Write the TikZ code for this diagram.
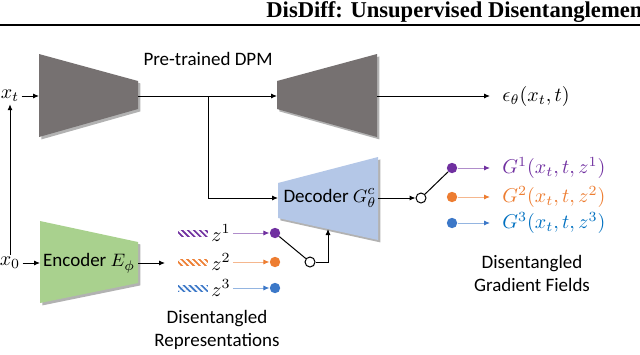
\documentclass[tikz,border=0pt]{standalone}
\usepackage{fontspec}
\setmainfont{Carlito}
\newfontfamily\titlefont{Liberation Serif}
\usepackage{tikz}
\usetikzlibrary{arrows.meta, positioning, calc, shadows, patterns.meta}

\definecolor{dpmgray}{HTML}{767171}
\definecolor{encgreen}{HTML}{A9D18E}
\definecolor{decblue}{HTML}{B4C7E7}
\definecolor{zpurple}{HTML}{7030A0}
\definecolor{zorange}{HTML}{ED7D31}
\definecolor{zblue}{HTML}{3C78C8}
\definecolor{gblue}{HTML}{0070C0}

\tikzset{
    lbl/.style={font=\fontsize{9.5}{11.5}\selectfont, inner sep=1pt},
    mathlbl/.style={font=\fontsize{10.3}{12}\selectfont, inner sep=1pt},
    conn/.style={-{Latex[length=3pt,width=2.6pt]}, line width=0.5pt},
    block/.style={drop shadow={shadow xshift=1.2pt, shadow yshift=-1.2pt, opacity=0.3, fill=black}},
    hatch/.style={pattern={Lines[angle=-45,distance=2.1pt,line width=1.1pt]}, pattern color=white},
    dot/.style={circle, inner sep=0pt, minimum size=5.2pt, fill=#1},
    switchnode/.style={circle, draw, fill=white, inner sep=0pt, minimum size=5pt, line width=0.5pt}
}

\begin{document}
\begin{tikzpicture}[x=0.5pt, y=-0.5pt]
    \useasboundingbox (0,0) rectangle (640,354);
    % header of the page
    \begin{scope}
        \clip (0,0) rectangle (640,354);
        \node[anchor=base west, inner sep=0pt, font=\titlefont\bfseries\fontsize{11.3}{13}\selectfont] (title) at (266,17) {DisDiff: Unsupervised Disentanglemen};
    \end{scope}
    \draw[line width=1pt] (0,25) -- (640,25);

    % pre-trained DPM
    \fill[dpmgray, block] (39,54) -- (138,81) -- (138,109) -- (39,137) -- cycle;
    \fill[dpmgray, block] (277,81) -- (377,54) -- (377,137) -- (277,109) -- cycle;
    \node[lbl] (dpm) at (208,59) {Pre-trained DPM};
    \coordinate (dpmin) at (39,96);
    \coordinate (dpmmid) at (138,96);
    \coordinate (unetin) at (277,96);
    \coordinate (dpmout) at (377,96);
    \coordinate (branch) at (208,96);

    \node[mathlbl] (xt) at (10,96) {$x_t$};
    \node[mathlbl] (x0) at (10,263) {$x_0$};
    \node[mathlbl, anchor=west, inner xsep=6pt] (eps) at (490,96) {$\epsilon_\theta(x_t,t)$};

    \draw[conn] (x0) -- (xt);
    \draw[conn] (xt) -- (dpmin);
    \draw[conn] (dpmmid) -- (unetin);
    \draw[conn] (dpmout) -- (eps);

    % conditional decoder
    \fill[decblue, block] (278,183) -- (378,157) -- (378,240) -- (278,218) -- cycle;
    \node[lbl] (dec) at (330,198) {Decoder $G_\theta^c$};
    \coordinate (decin) at (278,198);
    \coordinate (decout) at (378,198);
    \coordinate (decbot) at (328,229);
    \draw[conn] (branch) |- (decin);

    % encoder
    \fill[encgreen, block] (40,221) -- (138,242) -- (138,283) -- (40,303) -- cycle;
    \node[lbl] (enc) at (89,263) {Encoder $E_\phi$};
    \coordinate (encin) at (40,263);
    \coordinate (encout) at (138,263);
    \coordinate (zin) at (165,263);
    \draw[conn] (x0) -- (encin);
    \draw[conn] (encout) -- (zin);

    % disentangled representations
    \foreach \i/\c/\y in {1/zpurple/233, 2/zorange/262, 3/zblue/288} {
        \fill[\c] (178,\y-3.5) rectangle (208,\y+3.5);
        \fill[hatch] (178,\y-3.5) rectangle (208,\y+3.5);
        \node[mathlbl, anchor=west] (z\i) at (209,\y) {$z^{\i}$};
        \node[dot=\c] (zd\i) at (275,\y) {};
        \draw[line width=0.5pt, draw=\c!55!white, -{Latex[length=3pt,width=2.6pt,color=\c]}] (z\i) -- (zd\i);
    }
    \node[lbl, align=center] (rep) at (217,330) {Disentangled\\Representations};

    % switch into the decoder
    \node[switchnode] (sw1) at (310,262) {};
    \draw[line width=0.5pt] (zd1) -- (sw1);
    \draw[conn] (sw1) -| (decbot);

    % switch out of the decoder
    \node[switchnode] (sw2) at (421,198) {};
    \draw[conn] (decout) -- (sw2);

    % disentangled gradient fields
    \foreach \i/\c/\t/\y in {1/zpurple/zpurple/168, 2/zorange/zorange/197, 3/zblue/gblue/223} {
        \node[dot=\c] (gd\i) at (452,\y) {};
        \node[mathlbl, anchor=west, inner xsep=6pt, text=\t] (g\i) at (490,\y) {$G^{\i}(x_t,t,z^{\i})$};
        \draw[line width=0.5pt, draw=\c!55!white, -{Latex[length=3pt,width=2.6pt,color=\c]}] (gd\i) -- (g\i);
    }
    \draw[line width=0.5pt] (sw2) -- (gd1);
    \node[lbl, align=center] (grad) at (532,273) {Disentangled\\Gradient Fields};
\end{tikzpicture}
\end{document}
